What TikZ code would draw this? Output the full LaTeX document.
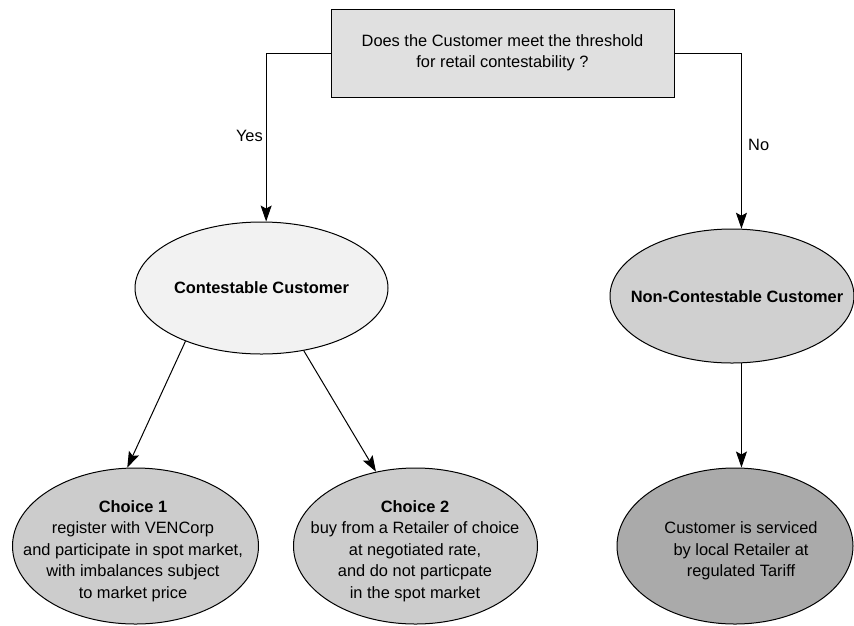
\documentclass[tikz,border=0pt]{standalone}
\usepackage{fontspec}
\setmainfont{Liberation Sans}
\usetikzlibrary{shapes.geometric,arrows.meta}
\definecolor{boxgray}{RGB}{224,224,224}
\definecolor{palegray}{RGB}{242,242,242}
\definecolor{midgray}{RGB}{208,208,208}
\definecolor{choicegray}{RGB}{204,204,204}
\definecolor{darkgray}{RGB}{170,170,170}
\begin{document}
\begin{tikzpicture}[x=1pt,y=-1pt,
  every node/.style={font=\fontsize{16.4}{21.5}\selectfont},
  oval/.style={ellipse,draw=black,line width=1pt,inner sep=0pt},
  txt/.style={align=center,inner sep=0pt},
  conn/.style={draw=black,line width=1pt,-{Stealth[length=16pt,width=11pt,inset=3pt]}},
]
\useasboundingbox (0,0) rectangle (854,625);

% question box
\node[draw=black,fill=boxgray,line width=1pt,minimum width=343pt,minimum height=88pt,txt]
  (q) at (502.5,53) {Does the Customer meet the threshold\\for retail contestability ?};

% customer classes
\node[oval,fill=palegray,minimum width=253pt,minimum height=132pt] (cont) at (261.5,288) {};
\node[txt,font=\fontsize{16.4}{21.5}\selectfont\bfseries] (contT) at (261.5,288) {Contestable Customer};

\node[oval,fill=midgray,minimum width=244pt,minimum height=134pt] (ncont) at (732,296) {};
\node[txt,font=\fontsize{16.4}{21.5}\selectfont\bfseries] (ncontT) at (737,297) {Non-Contestable Customer};

% outcomes
\node[oval,fill=choicegray,minimum width=246pt,minimum height=156pt] (c1) at (135.5,546) {};
\node[txt] (c1T) at (133,551) {\textbf{Choice 1}\\register with VENCorp\\and participate in spot market,\\with imbalances subject\\to market price};

\node[oval,fill=choicegray,minimum width=244pt,minimum height=156pt] (c2) at (415.5,546) {};
\node[txt] (c2T) at (415,551) {\textbf{Choice 2}\\buy from a Retailer of choice\\at negotiated rate,\\and do not particpate\\in the spot market};

\node[oval,fill=darkgray,minimum width=236pt,minimum height=156pt] (serv) at (735,546) {};
\node[txt] (servT) at (741,551) {Customer is serviced\\by local Retailer at\\regulated Tariff};

% connectors
\draw[conn] (q.west) -| (cont.86);
\draw[conn] (q.east) -| (ncont.82);
\draw[conn] (cont.215) -- (c1.96);
\draw[conn] (cont.304) -- (c2.118);
\draw[conn] (ncont.-82) -- (ncont.-82 |- serv.north);

% branch labels
\node[anchor=east,inner sep=0pt] (yes) at (263,136) {Yes};
\node[anchor=west,inner sep=0pt] (no) at (748,145) {No};
\end{tikzpicture}
\end{document}
